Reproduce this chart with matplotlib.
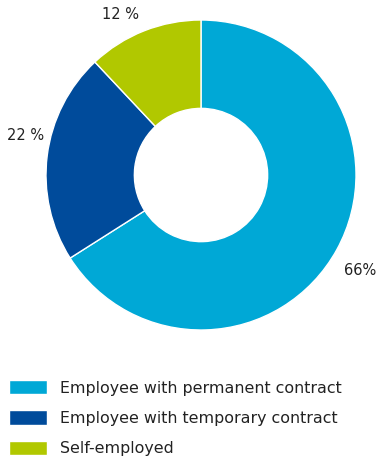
import matplotlib.pyplot as plt

# employment status shares
categories = ["Employee with permanent contract",
              "Employee with temporary contract",
              "Self-employed"]
shares = [66, 22, 12]
share_labels = ["66%", "22 %", "12 %"]
colors = ["#00A8D6", "#004B9B", "#B1C800"]

W, H = 376, 461
fig = plt.figure(figsize=(W / 100, H / 100), dpi=100)

# donut: centre (201,175) px, radius 155 px
cx, cy, r = 201, 175, 155
ax = fig.add_axes([(cx - r) / W, 1 - (cy + r) / H, 2 * r / W, 2 * r / H])
wedges, _ = ax.pie(shares, colors=colors, startangle=90, counterclock=False,
                   radius=1, wedgeprops=dict(width=0.57, edgecolor="white", linewidth=1))
ax.set_xlim(-1, 1)
ax.set_ylim(-1, 1)
ax.set_aspect("equal")
ax.axis("off")

# percentage labels (data coords relative to the donut)
label_pos = [(1.026, -0.616), (-1.132, 0.252), (-0.519, 1.035)]
for (x, y), txt in zip(label_pos, share_labels):
    ax.text(x, y, txt, ha="center", va="center", fontsize=10.5,
            color="#222222", clip_on=False)

fs = 11.4
fpx = fs * 100 / 72
fig.legend(wedges, categories, loc="upper left",
           bbox_to_anchor=(9 / W, 1 - 380 / H), frameon=False,
           fontsize=fs, handlelength=38 / fpx, handleheight=16 / fpx,
           handletextpad=13 / fpx, labelspacing=0.93, borderpad=0,
           borderaxespad=0, labelcolor="#222222")

fig.savefig("out.png", dpi=100)
